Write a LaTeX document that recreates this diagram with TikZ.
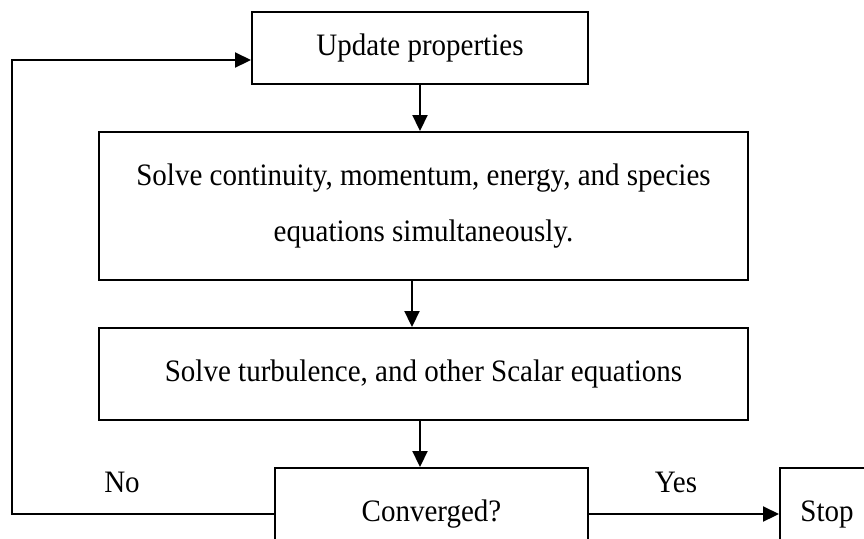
\documentclass[tikz,border=0pt]{standalone}
\usepackage{fontspec}
\setmainfont[FakeStretch=0.93]{Liberation Serif}
\usetikzlibrary{positioning,arrows.meta,calc}

\begin{document}
\begin{tikzpicture}[x=0.5pt, y=-0.5pt, >={Triangle[length=8pt,width=7.5pt]},
    line width=1.1pt,
    every node/.style={font=\fontsize{15.6}{28}\selectfont, align=center},
    stepbox/.style={draw, line width=1pt, inner sep=0pt}]
  \useasboundingbox (0,0) rectangle (864,538);
  \clip (0,0) rectangle (864,538);

  \node[stepbox, minimum width=168pt, minimum height=36pt] (upd)
      at (420,48) {Update properties};
  \node[stepbox, minimum width=324.5pt, minimum height=74pt] (solve)
      at (423.5,206) {Solve continuity, momentum, energy, and species\\equations simultaneously.};
  \node[stepbox, minimum width=324.5pt, minimum height=46pt] (turb)
      at (423.5,374) {Solve turbulence, and other Scalar equations};
  \node[stepbox, minimum width=156.5pt, minimum height=46pt] (conv)
      at (431.5,514) {Converged?};
  \node[stepbox, minimum width=47pt, minimum height=46pt] (stop)
      at (827,514) {Stop};

  \node (no) at (122,482) {No};
  \node (yes) at (676,482) {Yes};

  \coordinate (back) at (12,60);

  \draw[->] (upd.south) -- (upd.south |- solve.north);
  \draw[->] ($(solve.south)+(-11.5,0)$) coordinate (s2) -- (s2 |- turb.north);
  \draw[->] ($(turb.south)+(-3.5,0)$) coordinate (s3) -- (s3 |- conv.north);
  \draw[->] (conv.east) -- (stop.west);
  \draw[->] (conv.west) -| (back) -- (back -| upd.west);
\end{tikzpicture}
\end{document}
